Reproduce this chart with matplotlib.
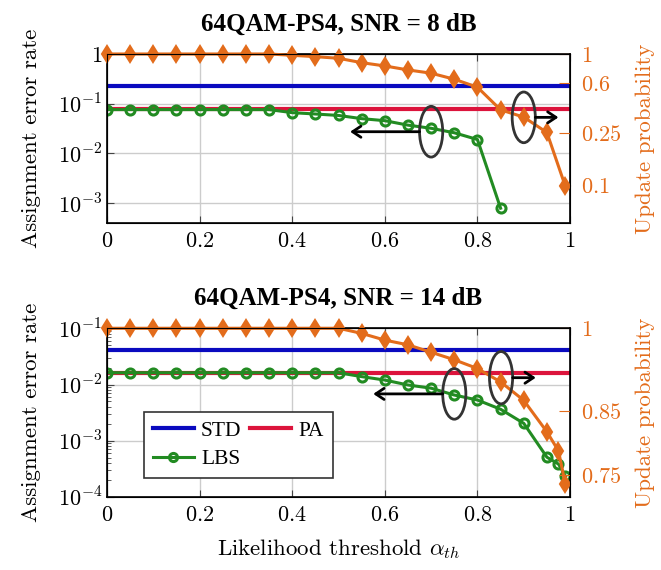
import numpy as np
import matplotlib.pyplot as plt
from matplotlib.patches import Ellipse
from matplotlib.ticker import FixedLocator, FixedFormatter, NullLocator, LogLocator

plt.rcParams['mathtext.fontset'] = 'cm'
plt.rcParams['font.family'] = 'serif'
plt.rcParams['font.serif'] = ['cmr10', 'Liberation Serif', 'DejaVu Serif']
plt.rcParams['axes.formatter.use_mathtext'] = True

# likelihood threshold grid
alpha_top = [0, .05, .1, .15, .2, .25, .3, .35, .4, .45, .5, .55, .6, .65, .7, .75, .8, .85, .9, .95, .99]
alpha_bot = [0, .05, .1, .15, .2, .25, .3, .35, .4, .45, .5, .55, .6, .65, .7, .75, .8, .85, .9, .95, .975, .99]

# SNR = 8 dB
std_8 = 0.23
pa_8 = 0.077
lbs_alpha_8 = [0, .05, .1, .15, .2, .25, .3, .35, .4, .45, .5, .55, .6, .65, .7, .75, .8, .85]
lbs_8 = [0.076, 0.076, 0.076, 0.076, 0.076, 0.076, 0.076, 0.076, 0.066, 0.062, 0.058, 0.050,
         0.0455, 0.037, 0.032, 0.026, 0.019, 0.00079]
upd_8 = [1.0, 1.0, 1.0, 1.0, 1.0, 1.0, 1.0, 1.0, 0.977, 0.954, 0.927, 0.858, 0.81, 0.755,
         0.713, 0.641, 0.557, 0.374, 0.329, 0.251, 0.097]

# SNR = 14 dB
std_14 = 0.0411
pa_14 = 0.0162
lbs_14 = [0.0162] * 11 + [0.0138, 0.0120, 0.0098, 0.0086, 0.0065, 0.0053, 0.00363, 0.00204,
                          0.00051, 0.000385, 0.000236]
upd_14 = [1.0] * 11 + [0.990, 0.977, 0.968, 0.954, 0.940, 0.924, 0.900, 0.868, 0.816, 0.786, 0.736]

x_ticks = [0, 0.2, 0.4, 0.6, 0.8, 1]
x_labels = ['$0$', '$0.2$', '$0.4$', '$0.6$', '$0.8$', '$1$']

c_std = '#0a0abf'
c_pa = '#dc143c'
c_lbs = '#228b22'
c_upd = '#e36c1b'

fig = plt.figure(figsize=(6.61, 5.70), dpi=100)
ax_t = fig.add_axes([0.1619, 0.6088, 0.7005, 0.2965])
ax_b = fig.add_axes([0.1619, 0.1281, 0.7005, 0.2960])


def setup(ax, ylim, yt, ylab, title):
    ax.set_yscale('log')
    ax.set_xlim(0, 1)
    ax.set_ylim(*ylim)
    ax.xaxis.set_major_locator(FixedLocator(x_ticks))
    ax.xaxis.set_major_formatter(FixedFormatter(x_labels))
    ax.yaxis.set_major_locator(FixedLocator(yt))
    ax.yaxis.set_major_formatter(FixedFormatter(ylab))
    ax.yaxis.set_minor_locator(LogLocator(base=10, subs=np.arange(2, 10)))
    ax.xaxis.set_minor_locator(NullLocator())
    ax.tick_params(which='both', direction='in', top=True, right=True, labelsize=16, color='#444')
    ax.tick_params(which='major', length=5)
    ax.tick_params(which='minor', length=3)
    ax.tick_params(axis='x', pad=6)
    ax.grid(True, which='major', color='#cccccc', linewidth=1)
    ax.set_axisbelow(True)
    ax.set_ylabel('Assignment error rate', fontsize=16.5, labelpad=12)
    ax.set_title(title, fontsize=18, fontweight='bold', family='Liberation Serif', pad=17)
    for s in ax.spines.values():
        s.set_linewidth(1.2)


def right_axis(ax, ylim, yt, ylab):
    a2 = ax.twinx()
    a2.set_yscale('log')
    a2.set_ylim(*ylim)
    a2.yaxis.set_major_locator(FixedLocator(yt))
    a2.yaxis.set_major_formatter(FixedFormatter(ylab))
    a2.yaxis.set_minor_locator(NullLocator())
    a2.tick_params(axis='y', direction='in', length=8, colors=c_upd, labelsize=16, pad=8)
    a2.set_ylabel('Update probability', fontsize=16.5, color=c_upd, labelpad=10)
    return a2


def marks(a2, e1, e2):
    # ellipse + arrow pointing towards the axis each curve belongs to
    for (cx, cy, h), dx in ((e1, -1), (e2, 1)):
        a2.add_patch(Ellipse((cx, cy), 0.05, h, transform=a2.transAxes, fill=False,
                             edgecolor='#333333', lw=2, zorder=6))
        x0 = cx + dx * 0.025
        a2.annotate('', xy=(x0 + dx * (0.15 if dx < 0 else 0.05), cy), xytext=(x0, cy),
                    xycoords='axes fraction', textcoords='axes fraction',
                    arrowprops=dict(arrowstyle='->,head_length=0.6,head_width=0.4', lw=2,
                                    color='black', shrinkA=0, shrinkB=0), zorder=6)


# top panel
setup(ax_t, (10 ** -3.4, 1), [1e-3, 1e-2, 1e-1, 1],
      ['$10^{-3}$', '$10^{-2}$', '$10^{-1}$', '$1$'], '64QAM-PS4, SNR = 8 dB')
ax_t.axhline(std_8, color=c_std, lw=3, label='STD')
ax_t.axhline(pa_8, color=c_pa, lw=3, label='PA')
ax_t.plot(lbs_alpha_8, lbs_8, color=c_lbs, lw=2.2, marker='o', ms=6.5, mfc='none', mew=2.2, label='LBS')
at2 = right_axis(ax_t, (0.051, 1), [0.1, 0.25, 0.6, 1], ['$0.1$', '$0.25$', '$0.6$', '$1$'])
at2.plot(alpha_top, upd_8, color=c_upd, lw=2.2, marker='d', ms=8, mew=1.5, clip_on=False)
marks(at2, (0.7, 0.54, 0.30), (0.9, 0.625, 0.30))

# bottom panel
setup(ax_b, (1e-4, 1e-1), [1e-4, 1e-3, 1e-2, 1e-1],
      ['$10^{-4}$', '$10^{-3}$', '$10^{-2}$', '$10^{-1}$'], '64QAM-PS4, SNR = 14 dB')
ax_b.axhline(std_14, color=c_std, lw=3, label='STD')
ax_b.axhline(pa_14, color=c_pa, lw=3, label='PA')
ax_b.plot(alpha_bot, lbs_14, color=c_lbs, lw=2.2, marker='o', ms=6.5, mfc='none', mew=2.2, label='LBS')
ab2 = right_axis(ax_b, (0.718, 1), [0.75, 0.85, 1], ['$0.75$', '$0.85$', '$1$'])
ab2.plot(alpha_bot, upd_14, color=c_upd, lw=2.2, marker='d', ms=8, mew=1.5, clip_on=False)
marks(ab2, (0.75, 0.611, 0.30), (0.851, 0.707, 0.31))
ax_b.set_xlabel(r'Likelihood threshold $\alpha_{th}$', fontsize=16.5, labelpad=9)

# legend laid out row-wise: STD, PA / LBS
h, l = ax_b.get_legend_handles_labels()
order = [0, 2, 1]
leg = ab2.legend([h[i] for i in order], [l[i] for i in order], ncol=2, loc='lower left',
                 bbox_to_anchor=(0.08, 0.113),
                 prop={'family': 'Liberation Serif', 'size': 15.5}, frameon=True, fancybox=False,
                 edgecolor='#333333', framealpha=1, handlelength=1.9, columnspacing=0.4,
                 handletextpad=0.35, borderpad=0.4, labelspacing=0.4, markerscale=0.9,
                 borderaxespad=0)
leg.get_frame().set_linewidth(1.2)

fig.savefig('out.png', dpi=100)
